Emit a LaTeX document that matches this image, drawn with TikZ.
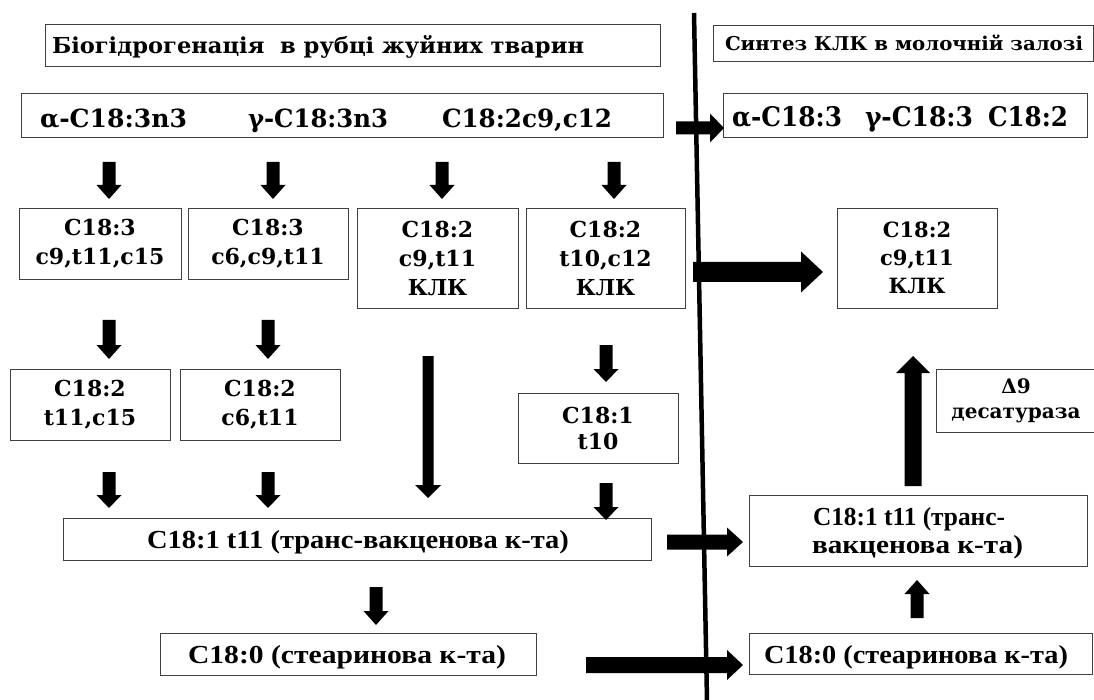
\documentclass[tikz,border=0pt]{standalone}
\usepackage{fontspec}
\setmainfont{DejaVu Serif}
\newfontfamily\narrowf{Liberation Serif}
\usepackage{graphicx}
\newlength\fitlen
\newcommand\fitx[2]{\settowidth{\fitlen}{#2}\pgfmathsetmacro\fitsf{#1/\fitlen}\scalebox{\fitsf}[1]{#2}}
\newcommand\varr[6]{\fill (#1-#5,#2) -- (#1+#5,#2) -- (#1+#5,#3) -- (#1+#6,#3) -- (#1,#4) -- (#1-#6,#3) -- (#1-#5,#3) -- cycle;}
\newcommand\harr[6]{\fill (#2,#1-#5) -- (#2,#1+#5) -- (#3,#1+#5) -- (#3,#1+#6) -- (#4,#1) -- (#3,#1-#6) -- (#3,#1-#5) -- cycle;}
\begin{document}
\begin{tikzpicture}[x=1pt,y=-1pt,
  box/.style={draw=black!75, line width=0.9pt, inner sep=0pt, align=center, font=\bfseries\fontsize{22}{29}\selectfont},
  wide/.style={anchor=base, inner sep=0pt, font=\bfseries\fontsize{#1}{#1}\selectfont},
  narrow/.style={anchor=base, inner sep=0pt, font=\narrowf\bfseries\fontsize{#1}{#1}\selectfont}]
\useasboundingbox[fill=white] (0,0) rectangle (1094,700);

% boxes
\node[box, minimum width=615pt, minimum height=42pt] (t1) at (352.5,45) {};
\node[box, minimum width=642pt, minimum height=44pt] (r1) at (342,115) {};
\node[box, minimum width=380pt, minimum height=36pt] (t2) at (903,43) {};
\node[box, minimum width=364pt, minimum height=44pt] (r2) at (905,115) {};
\node[box, minimum width=162pt, minimum height=71pt] (b1) at (100,243.5) {C18:3\\c9,t11,c15};
\node[box, minimum width=160pt, minimum height=71pt] (b2) at (268,243.5) {C18:3\\c6,c9,t11};
\node[box, minimum width=161pt, minimum height=100pt] (b3) at (437.5,258) {C18:2\\c9,t11\\КЛК};
\node[box, minimum width=159pt, minimum height=100pt] (b4) at (605.5,258) {C18:2\\t10,c12\\КЛК};
\node[box, minimum width=160pt, minimum height=100pt, font=\bfseries\fontsize{21}{28}\selectfont] (k) at (917,258) {C18:2\\c9,t11\\КЛК};
\node[box, minimum width=160pt, minimum height=71pt] (b5) at (90,404.5) {C18:2\\t11,c15};
\node[box, minimum width=160pt, minimum height=71pt] (b6) at (260,404.5) {C18:2\\c6,t11};
\node[box, minimum width=160pt, minimum height=70pt, font=\bfseries\fontsize{22}{26}\selectfont] (b7) at (598,428) {C18:1\\t10};
\node[box, minimum width=160pt, minimum height=63pt, font=\bfseries\fontsize{20}{25}\selectfont] (d9) at (1016,400.5) {Δ9\\десатураза};
\node[box, minimum width=588pt, minimum height=42pt] (l4) at (357,539) {};
\node[box, minimum width=338pt, minimum height=71pt] (r4) at (918,530.5) {};
\node[box, minimum width=376pt, minimum height=42pt] (l5) at (348,654) {};
\node[box, minimum width=343pt, minimum height=41pt] (r5) at (920.5,653.5) {};

% texts
\node[wide=22] (t1txt) at (318,54) {\fitx{532}{Біогідрогенація\ \ в рубці жуйних тварин}};
\node[wide=25] (r1a) at (113.5,128) {\fitx{147}{α-C18:3n3}};
\node[wide=25] (r1b) at (318,128) {\fitx{140}{γ-C18:3n3}};
\node[wide=25] (r1c) at (527,128) {\fitx{170}{C18:2c9,c12}};
\node[wide=19] (t2txt) at (904,51) {\fitx{358}{Синтез КЛК в молочній залозі}};
\node[wide=27] (r2a) at (787,127) {\fitx{110}{α-C18:3}};
\node[wide=27] (r2b) at (919,127) {\fitx{108}{γ-C18:3}};
\node[wide=27] (r2c) at (1028,127) {\fitx{80}{C18:2}};
\node[narrow=26] (l4txt) at (358,548) {\fitx{422}{C18:1 t11 (транс-вакценова к-та)}};
\node[narrow=26] (r4txta) at (909,525) {\fitx{192}{C18:1 t11 (транс-}};
\node[narrow=26] (r4txtb) at (917.5,553) {\fitx{211}{вакценова к-та)}};
\node[narrow=26] (l5txt) at (347,663) {\fitx{318}{C18:0 (стеаринова к-та)}};
\node[narrow=26] (r5txt) at (916,663) {\fitx{304}{C18:0 (стеаринова к-та)}};

% block arrows
\varr{109}{162}{185}{199}{6.5}{12.5}
\varr{273}{162}{185}{199}{6.5}{12.5}
\varr{442}{162}{185}{199}{6.5}{12.5}
\varr{614}{162}{185}{199}{6.5}{12.5}
\varr{109}{320}{345}{359}{6.5}{12.5}
\varr{268}{320}{345}{359}{6.5}{12.5}
\varr{428}{356}{485}{498}{5.5}{13}
\varr{606}{345}{369}{382}{6.5}{12.5}
\varr{109}{472}{495}{508}{6.5}{12.5}
\varr{268}{472}{495}{508}{6.5}{12.5}
\varr{606}{483}{507}{520}{6.5}{12.5}
\varr{376}{587}{611}{625}{6.5}{12.5}
\varr{913}{486}{373}{356}{8.5}{17}
\varr{917}{618}{594}{580}{6.5}{12.5}
\harr{128}{676}{710}{724}{6.5}{14.5}
\harr{272}{693}{801}{823}{10}{20.5}
\harr{542}{667}{727}{743}{7.5}{14.5}
\harr{665}{586}{727}{743}{8}{15}

% divider
\coordinate (dtop) at (694,13);
\coordinate (dbot) at (707,701);
\draw[line width=4.5pt] (dtop) -- (dbot);
\end{tikzpicture}
\end{document}
